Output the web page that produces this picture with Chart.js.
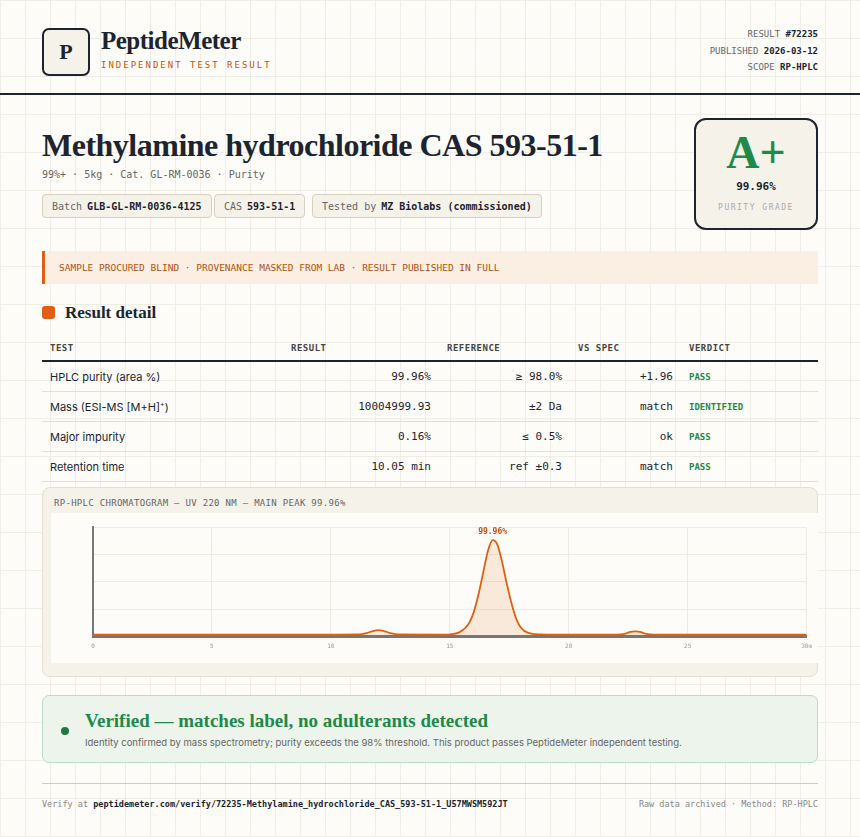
<!DOCTYPE html>
<html><head><meta charset="utf-8">
<script src="https://cdn.jsdelivr.net/npm/chart.js@4"></script>
<style>
body{margin:0;width:860px;height:837px;overflow:hidden;background-color:#fdfcf8;
 background-image:linear-gradient(#efede6 1px,transparent 1px),linear-gradient(90deg,#efede6 1px,transparent 1px);
 background-size:25px 38px;font-family:Inter,"Liberation Sans",sans-serif;color:#1c2430;position:relative}
.mono{font-family:"DejaVu Sans Mono",monospace}
.serif{font-family:"Liberation Serif",serif}
.abs{position:absolute}
.logo{left:42px;top:28px;width:44px;height:44px;border:2px solid #1c2430;border-radius:7px;background:#f5f2ea;
 display:flex;align-items:center;justify-content:center;font:bold 22px "Liberation Serif",serif}
.meta{right:42px;font-size:9px;color:#666;text-align:right}
.meta b{color:#1c2430}
.chip{top:194px;height:24px;border:1px solid #d8d0bc;border-radius:4px;background:#f5f2ea;font-size:10px;color:#666;
 display:flex;align-items:center;padding:0 9px;box-sizing:border-box;white-space:nowrap}
.chip b{color:#1c2430;margin-left:5px}
table{border-collapse:collapse;font-size:11px}
td,th{height:29px;border-bottom:1px solid #e4dfd1;padding:0 8px}
th{font:bold 9px "DejaVu Sans Mono",monospace;color:#444;text-align:left;height:25px;border-bottom:2px solid #1c2430;letter-spacing:.5px}
td.r{text-align:right;font-family:"DejaVu Sans Mono",monospace}
td.v{font:bold 9px "DejaVu Sans Mono",monospace;color:#1e8a4a}
</style></head><body>
<div class="abs logo">P</div>
<div class="abs serif" style="left:101px;top:27px;font-size:25px;font-weight:bold;letter-spacing:-0.5px">PeptideMeter</div>
<div class="abs mono" style="left:101px;top:60px;font-size:9px;letter-spacing:2px;color:#c9520a">INDEPENDENT TEST RESULT</div>
<div class="abs mono meta" style="top:29px">RESULT <b>#72235</b></div>
<div class="abs mono meta" style="top:46px">PUBLISHED <b>2026-03-12</b></div>
<div class="abs mono meta" style="top:62px">SCOPE <b>RP-HPLC</b></div>
<div class="abs" style="left:0;top:93px;width:860px;height:2px;background:#1c2430"></div>

<div class="abs serif" style="left:42px;top:127px;font-size:32px;font-weight:bold;letter-spacing:-0.5px">Methylamine hydrochloride CAS 593-51-1</div>
<div class="abs mono" style="left:42px;top:169px;font-size:10px;color:#666">99%+ · 5kg · Cat. GL-RM-0036 · Purity</div>
<div class="abs mono chip" style="left:42px">Batch<b>GLB-GL-RM-0036-4125</b></div>
<div class="abs mono chip" style="left:214px">CAS<b>593-51-1</b></div>
<div class="abs mono chip" style="left:312px">Tested by<b>MZ Biolabs (commissioned)</b></div>

<div class="abs" style="left:694px;top:118px;width:124px;height:112px;border:2px solid #1c2430;border-radius:12px;background:#f5f2ea;box-sizing:border-box;text-align:center">
 <div class="serif" style="font-size:46px;font-weight:bold;color:#1e8a4a;margin-top:10px;line-height:46px">A+</div>
 <div class="mono" style="font-size:11px;font-weight:bold;margin-top:4px">99.96%</div>
 <div class="mono" style="font-size:8px;color:#aaa;letter-spacing:1.5px;margin-top:10px">PURITY GRADE</div>
</div>

<div class="abs mono" style="left:42px;top:251px;width:776px;height:33px;background:#fbeee3;border-left:3px solid #e0600f;box-sizing:border-box;padding-left:14px;line-height:33px;font-size:9.5px;color:#b5520e">SAMPLE PROCURED BLIND · PROVENANCE MASKED FROM LAB · RESULT PUBLISHED IN FULL</div>

<div class="abs" style="left:42px;top:306px;width:13px;height:13px;background:#e0600f;border-radius:3px"></div>
<div class="abs serif" style="left:65px;top:303px;font-size:17px;font-weight:bold">Result detail</div>

<table class="abs" style="left:42px;top:335px;width:776px">
<tr><th style="width:225px">TEST</th><th style="width:140px">RESULT</th><th style="width:115px">REFERENCE</th><th style="width:95px">VS SPEC</th><th>VERDICT</th></tr>
<tr><td>HPLC purity (area %)</td><td class="r">99.96%</td><td class="r">≥ 98.0%</td><td class="r">+1.96</td><td class="v">PASS</td></tr>
<tr><td>Mass (ESI-MS [M+H]<sup style="font-size:7px">+</sup>)</td><td class="r">10004999.93</td><td class="r">±2 Da</td><td class="r">match</td><td class="v">IDENTIFIED</td></tr>
<tr><td>Major impurity</td><td class="r">0.16%</td><td class="r">≤ 0.5%</td><td class="r">ok</td><td class="v">PASS</td></tr>
<tr><td>Retention time</td><td class="r">10.05 min</td><td class="r">ref ±0.3</td><td class="r">match</td><td class="v">PASS</td></tr>
</table>

<div class="abs" style="left:42px;top:487px;width:776px;height:190px;background:#f5f2ea;border:1px solid #e4dfd1;border-radius:8px;box-sizing:border-box">
 <div class="mono" style="position:absolute;left:11px;top:10px;font-size:9px;color:#666;letter-spacing:.3px">RP-HPLC CHROMATOGRAM — UV 220 NM — MAIN PEAK 99.96%</div>
 <div style="position:absolute;left:8px;top:25px;width:767px;height:150px;background:#fdfcf8">
  <canvas id="chart" width="767" height="150"></canvas>
 </div>
</div>

<div class="abs" style="left:42px;top:695px;width:776px;height:68px;background:#ecf4ec;border:1px solid #bcdcc4;border-radius:7px;box-sizing:border-box">
 <div style="position:absolute;left:18px;top:31px;width:8px;height:8px;border-radius:50%;background:#1e7a42"></div>
 <div class="serif" style="position:absolute;left:42px;top:14px;font-size:19px;font-weight:bold;color:#1e8a4a">Verified — matches label, no adulterants detected</div>
 <div style="position:absolute;left:42px;top:41px;font-size:9.5px;color:#666">Identity confirmed by mass spectrometry; purity exceeds the 98% threshold. This product passes PeptideMeter independent testing.</div>
</div>
<div class="abs" style="left:42px;top:783px;width:776px;height:1px;background:#d8ccb4"></div>
<div class="abs mono" style="left:42px;top:799px;font-size:8.5px;color:#888">Verify at <b style="color:#1c2430">peptidemeter.com/verify/72235-Methylamine_hydrochloride_CAS_593-51-1_U57MWSM592JT</b></div>
<div class="abs mono" style="right:42px;top:799px;font-size:8.5px;color:#888">Raw data archived · Method: RP-HPLC</div>

<script>
const times = [0,10,11.2,11.5,11.8,12,12.2,12.5,12.8,14.5,15,15.4,15.8,16.0,16.2,16.4,16.6,16.8,17.0,17.2,17.4,17.6,17.8,18.0,18.3,18.8,19.5,22.0,22.4,22.6,22.8,23.0,23.2,23.6,30];
const absorbance = [2,2,2.1,3.4,5.5,6,5.5,3.4,2.1,2,2.3,4,12,22,38,58,78,88,84,68,48,30,16,8,3.5,2.2,2,2,3,4.5,5,4.5,3,2,2];
const xTicks = [0,5,10,15,20,25,30];
const peakLabel = '99.96%';

const peakPlugin = {
  id: 'peak',
  afterDatasetsDraw(chart) {
    const i = absorbance.indexOf(Math.max(...absorbance));
    const x = chart.scales.x.getPixelForValue(times[i]);
    const y = chart.scales.y.getPixelForValue(absorbance[i]);
    const ctx = chart.ctx;
    ctx.save();
    ctx.font = 'bold 8px "DejaVu Sans Mono"';
    ctx.fillStyle = '#c9520a';
    ctx.textAlign = 'center';
    ctx.fillText(peakLabel, x, y - 6);
    ctx.restore();
  }
};

new Chart(document.getElementById('chart'), {
  type: 'line',
  data: { datasets: [{
    data: times.map((t, i) => ({ x: t, y: absorbance[i] })),
    borderColor: '#e0600f', borderWidth: 1.8, backgroundColor: 'rgba(224,96,15,0.12)',
    fill: 'origin', pointRadius: 0, cubicInterpolationMode: 'monotone'
  }]},
  options: {
    responsive: false, animation: false,
    layout: { padding: { left: 42, right: 8, top: 14, bottom: 7 } },
    plugins: { legend: { display: false }, tooltip: { enabled: false } },
    scales: {
      x: { type: 'linear', min: 0, max: 30,
        afterBuildTicks: s => { s.ticks = xTicks.map(v => ({ value: v })); },
        ticks: { font: { size: 6, family: 'DejaVu Sans Mono' }, color: '#999', padding: 6, callback: v => v === 30 ? '30m' : v },
        grid: { color: '#eeebe2', drawTicks: false },
        border: { color: '#777', width: 3 } },
      y: { min: 0, max: 100, ticks: { display: false, stepSize: 25 },
        grid: { color: '#eeebe2', drawTicks: false },
        border: { color: '#777', width: 2 } }
    }
  },
  plugins: [peakPlugin]
});
</script>
</body></html>
